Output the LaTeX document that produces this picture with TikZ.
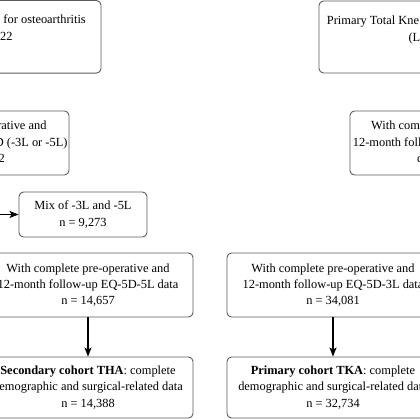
\documentclass[tikz,border=0pt]{standalone}
\usepackage{fontspec}
\setmainfont{Liberation Serif}
\usetikzlibrary{arrows.meta}
\definecolor{boxgray}{RGB}{90,90,90}
\begin{document}
\begin{tikzpicture}[x=1pt,y=-1pt,
  box/.style={draw=boxgray, line width=0.9pt, rounded corners=4.5pt, inner sep=0pt, align=center, font=\fontsize{12.4}{16.3}\selectfont},
  frag/.style={inner sep=0pt, font=\fontsize{12.4}{16.3}\selectfont},
  arr/.style={line width=1.2pt, -{Stealth[length=9pt,width=7pt,inset=2pt]}}]
\useasboundingbox (0,0) rectangle (420,420);
\clip (0,0) rectangle (420,420);
% top row
\node[box, minimum width=265pt, minimum height=72.5pt] (b1) at (-31.5,36.8) {};
\node[box, minimum width=258pt, minimum height=72pt] (b2) at (448,37) {};
\node[frag, anchor=base east] (b1a) at (86,24) {for osteoarthritis};
\node[frag, anchor=base east] (b1b) at (12.7,41) {22};
\node[frag, anchor=base west] (b2a) at (326.7,24.5) {Primary Total Kne};
\node[frag, anchor=base west] (b2b) at (408.3,41.5) {(L};
% second row
\node[box, minimum width=202pt, minimum height=64pt] (b3) at (-32,143) {};
\node[box, minimum width=196pt, minimum height=64pt] (b4) at (448,143) {};
\node[frag, anchor=base east] (b3a) at (46.7,129.5) {rative and};
\node[frag, anchor=base east] (b3b) at (67.7,146) {D (-3L or -5L)};
\node[frag, anchor=base east] (b3c) at (5,162) {2};
\node[frag, anchor=base west] (b4a) at (371,129.5) {With com};
\node[frag, anchor=base west] (b4b) at (352.7,146) {12-month foll};
\node[frag, anchor=base west] (b4c) at (417,162) {d};
% mix
\node[box, minimum width=128pt, minimum height=45pt] (mix) at (83,214.5) {Mix of -3L and -5L\\n = 9,273};
\draw[arr] (b3.south) |- (mix.west);
% third row
\node[box, minimum width=210pt, minimum height=64pt] (l3) at (88,285) {With complete pre-operative and\\12-month follow-up EQ-5D-5L data\\n = 14,657};
\node[box, minimum width=212pt, minimum height=64pt] (r3) at (333,285) {With complete pre-operative and\\12-month follow-up EQ-5D-3L data\\n = 34,081};
% bottom row
\node[box, minimum width=210pt, minimum height=61pt] (l4) at (88,387.5) {\textbf{Secondary cohort THA}: complete\\demographic and surgical-related data\\n = 14,388};
\node[box, minimum width=212pt, minimum height=61pt] (r4) at (333,387.5) {\textbf{Primary cohort TKA}: complete\\demographic and surgical-related data\\n = 32,734};
\draw[arr] (l3) -- (l4);
\draw[arr] (r3) -- (r4);
\end{tikzpicture}
\end{document}
